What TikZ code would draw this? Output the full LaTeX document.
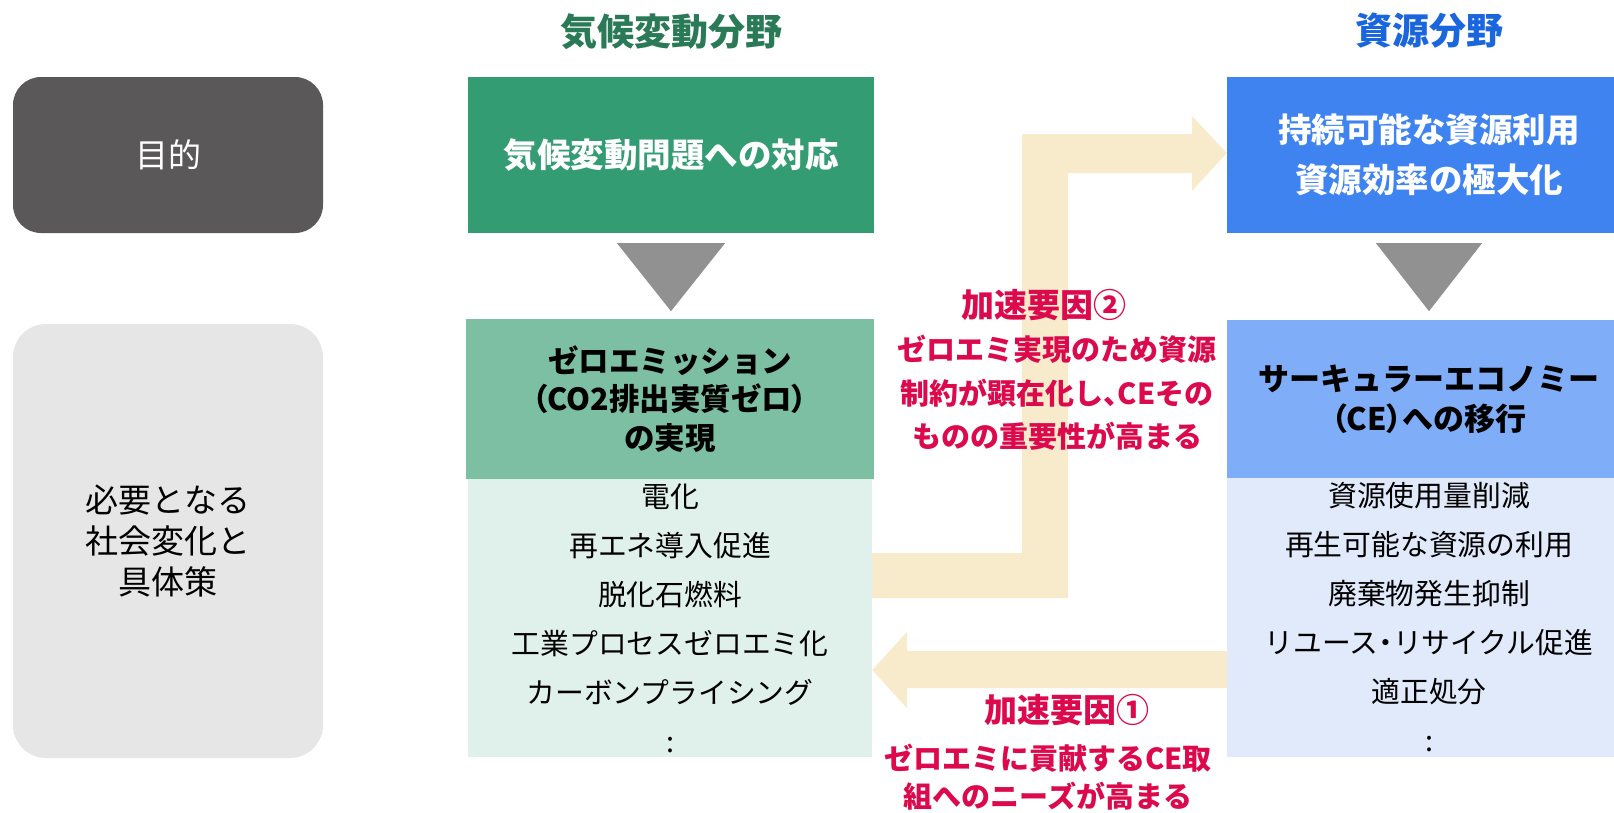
\documentclass[tikz,border=0pt]{standalone}
\usepackage{fontspec}
\setmainfont{Noto Sans CJK JP}
\newfontfamily\pfont{Noto Sans CJK JP}[RawFeature={+palt}]
\newcommand\pp[1]{{\pfont #1}}
\usetikzlibrary{calc}
\definecolor{purp}{HTML}{5A5858}
\definecolor{needc}{HTML}{E6E6E6}
\definecolor{gA}{HTML}{349C73}
\definecolor{gB}{HTML}{7DBFA2}
\definecolor{gC}{HTML}{E0F0EA}
\definecolor{bA}{HTML}{3F83F1}
\definecolor{bB}{HTML}{7FADF7}
\definecolor{bC}{HTML}{E0EAFB}
\definecolor{trig}{HTML}{919191}
\definecolor{yarrow}{HTML}{F8EBCB}
\definecolor{redt}{HTML}{DC0A4C}
\definecolor{gtitle}{HTML}{2B7A57}
\definecolor{btitle}{HTML}{1A66DD}
\newcommand\fsz[2]{\fontsize{#1}{#2}\selectfont}
\begin{document}
\begin{tikzpicture}[x=1pt,y=-1pt,
  blk/.style={draw=none,inner sep=0pt,align=center},
  ttl/.style={inner sep=0pt,font=\fsz{37}{40}\bfseries},
  redtxt/.style={inner sep=0pt,align=center,text=redt},
  tri/.style={fill=trig},
  fat/.style={fill=yarrow}]
\useasboundingbox (0,0) rectangle (1614,812);

% titles
\node[ttl,text=gtitle] (tg) at (671,32) {気候変動分野};
\node[ttl,text=btitle] (tb) at (1429,31) {資源分野};

% left column
\node[blk,fill=purp,rounded corners=28,minimum width=310,minimum height=156,text=white,font=\fsz{33}{36}] (purpose) at (168,155) {目的};
\node[blk,fill=needc,rounded corners=33,minimum width=310,minimum height=434,font=\fsz{33}{41}] (need) at (168,541) {必要となる\\社会変化と\\具体策};

% climate column
\node[blk,fill=gA,minimum width=406,minimum height=156,text=white,font=\fsz{33.5}{36}\bfseries] (g1) at (671,155) {気候変動問題への対応};
\node[blk,fill=gB,minimum width=408,minimum height=160,font=\fsz{30.5}{38.5}\bfseries] (g2) at (670,399) {ゼロエミッション\\\pp{（}CO2排出実質ゼロ\pp{）}\\の実現};
\node[blk,fill=gC,minimum width=404,minimum height=278,font=\fsz{28.8}{49}] (g3) at (670,618) {電化\\再エネ導入促進\\脱化石燃料\\工業プロセスゼロエミ化\\カーボンプライシング\\:};

% resource column
\node[blk,fill=bA,minimum width=404,minimum height=156,text=white,font=\fsz{33.5}{50}\bfseries] (b1) at (1429,155) {持続可能な資源利用\\資源効率の極大化};
\node[blk,fill=bB,minimum width=404,minimum height=158,font=\fsz{31}{40}\bfseries] (b2) at (1429,399) {サーキュラーエコノミー\\\pp{（}CE\pp{）}への移行};
\node[blk,fill=bC,minimum width=404,minimum height=279,font=\fsz{28.8}{49}] (b3) at (1429,617.5) {資源使用量削減\\再生可能な資源の利用\\廃棄物発生抑制\\リユース\pp{・}リサイクル促進\\適正処分\\:};

% down triangles
\fill[tri] ($(g1.south)+(-54,10)$) -- ($(g1.south)+(54,10)$) -- ($(g1.south)+(0,78)$) -- cycle;
\fill[tri] ($(b1.south)+(-53,10)$) -- ($(b1.south)+(53,10)$) -- ($(b1.south)+(0,78)$) -- cycle;

% fat arrows
\fill[fat] (g3.east |- 0,553) -- (1022,553) -- (1022,134) -- (1192,134) -- (1192,116)
  -- (b1.west |- 0,153) -- (1192,191) -- (1192,173) -- (1068,173) -- (1068,598)
  -- (g3.east |- 0,598) -- cycle;
\fill[fat] (b3.west |- 0,651) -- (907,651) -- (907,632) -- (g3.east |- 0,670)
  -- (907,708) -- (907,688) -- (b3.west |- 0,688) -- cycle;

% red labels
\node[redtxt,font=\fsz{33}{44}\bfseries] (acc2t) at (1044,305) {加速要因②};
\node[redtxt,font=\fsz{29}{43.5}\bfseries] (acc2b) at (1057,393) {ゼロエミ実現のため資源\\制約が顕在化し\pp{、}CEその\\ものの重要性が高まる};
\node[redtxt,font=\fsz{33}{44}\bfseries] (acc1t) at (1067,710) {加速要因①};
\node[redtxt,font=\fsz{29}{38}\bfseries] (acc1b) at (1048,777) {ゼロエミに貢献するCE取\\組へのニーズが高まる};
\end{tikzpicture}
\end{document}
